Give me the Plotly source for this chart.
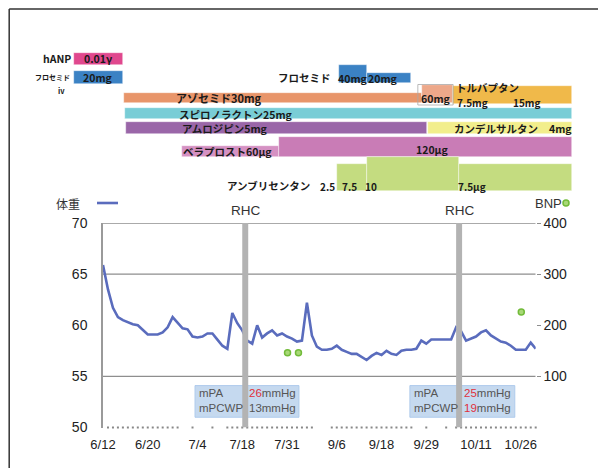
import plotly.graph_objects as go

# ---------------- data ----------------
# body weight (kg), one value per measurement (category index)
weight = [65.9, 63.5, 61.7, 60.8, 60.5, 60.3, 60.1, 60.0, 59.5, 59.1,
          59.1, 59.1, 59.3, 59.8, 60.8, 60.2, 59.7, 59.6, 58.9, 58.8,
          58.9, 59.2, 59.2, 58.6, 58.0, 57.7, 61.2, 60.2, 59.5, 58.5,
          58.2, 60.0, 58.8, 59.2, 59.5, 59.0, 59.2, 58.9, 58.7, 58.4,
          58.5, 62.2, 59.0, 57.9, 57.6, 57.6, 57.7, 58.0, 57.6, 57.4,
          57.2, 57.2, 56.9, 56.6, 57.0, 57.3, 57.1, 57.5, 57.2, 57.1,
          57.5, 57.6, 57.6, 57.7, 58.5, 58.2, 58.6, 58.6, 58.6, 58.6,
          58.6, 59.8, 59.4, 58.5, 58.7, 58.9, 59.3, 59.5, 59.0, 58.7,
          58.4, 58.3, 58.0, 57.6, 57.6, 57.6, 58.3, 57.7]
# BNP (pg/mL) measurements: category index, value
bnp_idx = [-1, 37.1, 39.3, 84.1]
bnp_val = [210, 146, 146, 226]

tick_idx = [0, 9, 19, 28, 37, 47, 56, 65, 75, 84]
tick_labels = ["6/12", "6/20", "7/4", "7/18", "7/31", "9/6", "9/18", "9/29", "10/11", "10/26"]
dot_gaps = [16, 17, 19, 20, 21, 23, 24, 43, 44, 45, 63, 64, 66, 67, 68, 70]
dot_idx = [i for i in range(1, len(weight)) if i not in dot_gaps]

left_ticks = [50, 55, 60, 65, 70]
right_ticks = [100, 200, 300, 400]
grid_vals = [55, 65, 70]

rhc_idx = [28.6, 71.6]
rhc_text = [("26", "13"), ("25", "19")]
rhc_red = [(True, False), (True, True)]

drug_key = ["hANP", "furo_iv", "furo40", "furo20", "azo30", "azo60", "tolv",
            "spiro", "amlo", "cand", "bera60", "bera120", "amb7a", "amb10", "amb7b"]
drug_start = [-5.8, -5.8, 47.4, 53.0, 4.2, 64.1, 70.4, 4.5, 4.6, 65.3, 15.8, 35.3, 47.0, 53.0, 71.6]
drug_end = [4.0, 4.0, 53.0, 61.9, 64.1, 70.4, 94.2, 94.2, 65.1, 94.2, 35.3, 94.2, 53.0, 71.6, 94.2]

# ---------------- layout helpers ----------------
OFF = 8                      # page body margin
W, H = 606 - OFF, 468 - OFF
X0PX, X1PX = 103, 535.7
N_LAST = len(weight) - 1
PPU = (X1PX - X0PX) / N_LAST


def px(x):
    return (x - OFF) / W


def py(y):
    return 1 - (y - OFF) / H


row_geom = {
    "hANP": (14.2, 11.7), "furo_iv": (32.7, 13.3), "furo40": (28.9, 17.7),
    "furo20": (33.0, 9.4), "azo30": (53.0, 9.4), "azo60": (48.9, 17.7),
    "tolv": (50.0, 18.6), "spiro": (68.5, 11.6), "amlo": (82.9, 12.3),
    "cand": (82.9, 12.3), "bera60": (106.3, 10.7), "bera120": (101.7, 20.0),
    "amb7a": (132.3, 26.7), "amb10": (129.0, 33.4), "amb7b": (132.3, 26.7),
}
colors = {
    "hANP": "#e0488e", "furo_iv": "#3b82c4", "furo40": "#3b82c4", "furo20": "#3b82c4",
    "azo30": "#e8956a", "azo60": "#eda88a", "tolv": "#f0b94a", "spiro": "#79cdd6",
    "amlo": "#9a66a8", "cand": "#f2ee8c", "bera60": "#d591c3", "bera120": "#c97cb6",
    "amb7a": "#c4dc80", "amb10": "#c4dc80", "amb7b": "#c4dc80",
}

LINE_COLOR = "#5a6cbd"
FONT = "Liberation Sans, Arial, sans-serif"
JFONT = "Noto Sans CJK JP, sans-serif"

fig = go.Figure()

for k, s, e in zip(drug_key, drug_start, drug_end):
    c, t = row_geom[k]
    fig.add_trace(go.Bar(
        orientation="h", y=[c], x=[e - s], base=[s], width=[t],
        marker=dict(color=colors[k], line=dict(width=0.6, color="rgba(255,255,255,0.7)")),
        xaxis="x2", yaxis="y2", showlegend=False, hoverinfo="skip"))

fig.add_trace(go.Scatter(
    x=list(range(len(weight))), y=weight, mode="lines",
    line=dict(color=LINE_COLOR, width=2.6), showlegend=False, hoverinfo="skip"))

fig.add_trace(go.Scatter(
    x=dot_idx, y=[50] * len(dot_idx), mode="markers",
    marker=dict(size=2, color="#888888", symbol="square"), cliponaxis=False,
    showlegend=False, hoverinfo="skip"))

fig.add_trace(go.Scatter(
    x=bnp_idx, y=bnp_val, mode="markers", yaxis="y3",
    marker=dict(size=6, color="#a8d877", line=dict(color="#72bb3a", width=1.5)),
    cliponaxis=False, showlegend=False, hoverinfo="skip"))

shapes = []
for g in grid_vals:
    shapes.append(dict(type="line", xref="x", yref="y", x0=0, x1=N_LAST, y0=g, y1=g,
                       line=dict(color="#8e8e8e", width=1.3), layer="below"))
for r in rhc_idx:
    shapes.append(dict(type="rect", xref="x", yref="y", x0=r - 0.6, x1=r + 0.6, y0=50, y1=70,
                       fillcolor="#b3b3b3", line=dict(width=0), layer="above"))
box_x = [(18.5, 39.4), (61.7, 82.8)]
for (a, b) in box_x:
    shapes.append(dict(type="rect", xref="x", yref="y", x0=a, x1=b, y0=51.0, y1=54.1,
                       fillcolor="rgba(150,185,225,0.55)",
                       line=dict(color="rgba(170,200,235,0.9)", width=1), layer="below"))
shapes.append(dict(type="rect", xref="x2", yref="y2", x0=63.3, x1=70.4, y0=39.5, y1=60,
                   line=dict(color="#aaaaaa", width=0.8)))
shapes.append(dict(type="line", xref="paper", yref="paper", x0=px(97), x1=px(118),
                   y0=py(203), y1=py(203), line=dict(color=LINE_COLOR, width=2.6)))
shapes.append(dict(type="circle", xref="paper", yref="paper", x0=px(563), x1=px(569),
                   y0=py(206), y1=py(200), fillcolor="#a8d877",
                   line=dict(color="#72bb3a", width=1.5)))
shapes.append(dict(type="line", xref="paper", yref="paper", x0=0.002, x1=0.002,
                   y0=0, y1=0.998, line=dict(color="#333333", width=1.5)))
shapes.append(dict(type="line", xref="paper", yref="paper", x0=0.002, x1=1,
                   y0=0.998, y1=0.998, line=dict(color="#333333", width=1.5)))

ann = []


def jt(text, x, y, size=11, anchor="center", bold=True, color="#1a1a1a"):
    t = f"<b>{text}</b>" if bold else text
    ann.append(dict(text=t, x=x, y=y, xref="x2", yref="y2", showarrow=False,
                    xanchor=anchor, yanchor="middle",
                    font=dict(family=JFONT, size=size, color=color)))


jt("hANP", -6.1, 14, 10.5, "right")
jt("0.01γ", -1.0, 14, 10.5)
jt("フロセミド", -6.2, 32, 7, "right")
jt("iv", -8.4, 45, 7.5)
jt("20mg", -1.0, 32.5, 10.5)
jt("フロセミド", 46.2, 32, 10.5, "right")
jt("40mg", 50.3, 33, 10.5)
jt("20mg", 56.3, 33, 10.5)
jt("アゾセミド30mg", 23.3, 53, 11)
jt("60mg", 66.9, 53, 10.5)
jt("トルバプタン", 70.6, 42, 10.5, "left")
jt("7.5mg", 70.8, 57.5, 10, "left")
jt("15mg", 82.0, 57.5, 10, "left")
jt("スピロノラクトン25mg", 26.7, 69, 10.5)
jt("アムロジピン5mg", 24.5, 83, 10.5)
jt("カンデルサルタン", 70.2, 83, 10.5, "left")
jt("4mg", 89.3, 83, 10.5, "left")
jt("ベラプロスト60μg", 25.1, 106, 10.5)
jt("120μg", 66.3, 104, 10.5)
jt("アンブリセンタン", 42.0, 140, 10.5, "right")
jt("2.5", 45.2, 141, 10)
jt("7.5", 49.5, 141, 10)
jt("10", 53.9, 141, 10)
jt("7.5μg", 74.2, 141, 10)

for r in rhc_idx:
    ann.append(dict(text="RHC", x=r, y=py(210), xref="x", yref="paper", showarrow=False,
                    xanchor="center", yanchor="middle",
                    font=dict(family=FONT, size=13.5, color="#333333")))

for (a, b), (v1, v2), (r1, r2) in zip(box_x, rhc_text, rhc_red):
    ann.append(dict(text="mPA<br>mPCWP", x=a + 0.35, y=52.6, xref="x", yref="y",
                    showarrow=False, xanchor="left", yanchor="middle", align="left",
                    font=dict(family=FONT, size=11.5, color="#555555")))
    s1 = f'<span style="color:#e0303c">{v1}</span>' if r1 else v1
    s2 = f'<span style="color:#e0303c">{v2}</span>' if r2 else v2
    ann.append(dict(text=f"{s1}mmHg<br>{s2}mmHg", x=a + 10.4, y=52.6, xref="x", yref="y",
                    showarrow=False, xanchor="left", yanchor="middle", align="left",
                    font=dict(family=FONT, size=11.5, color="#555555")))

ann.append(dict(text="体重", x=px(82), y=py(203), xref="paper", yref="paper", showarrow=False,
                xanchor="right", yanchor="middle", font=dict(family=JFONT, size=12, color="#333")))
ann.append(dict(text="BNP", x=px(533), y=py(203), xref="paper", yref="paper", showarrow=False,
                xanchor="left", yanchor="middle", font=dict(family=FONT, size=13, color="#333")))

x2_range = [(60 - X0PX) / PPU, (590 - X0PX) / PPU]

fig.update_layout(
    template="none",
    width=W, height=H, margin=dict(l=0, r=0, t=0, b=0, pad=0, autoexpand=False),
    paper_bgcolor="white", plot_bgcolor="rgba(0,0,0,0)",
    barmode="overlay", bargap=0,
    shapes=shapes, annotations=ann,
    xaxis=dict(domain=[px(X0PX), px(X1PX)], range=[0, N_LAST], tickvals=tick_idx,
               ticktext=tick_labels, showgrid=False, zeroline=False, showline=False,
               ticks="", ticklabelstandoff=7, anchor="y", automargin=False,
               tickfont=dict(family=FONT, size=13, color="#222222")),
    yaxis=dict(domain=[py(427.5), py(223)], range=[50, 70], tickvals=left_ticks,
               showgrid=False, zeroline=False, showline=True, linecolor="#9a9a9a",
               linewidth=1.5, ticks="", ticklabelstandoff=11, anchor="x", automargin=False,
               tickfont=dict(family=FONT, size=14, color="#222222")),
    yaxis3=dict(overlaying="y", side="right", range=[0, 400], tickvals=right_ticks,
                showgrid=False, zeroline=False, showline=False, ticks="outside",
                ticklen=4, tickcolor="#8e8e8e", anchor="x", automargin=False,
                tickfont=dict(family=FONT, size=14, color="#222222")),
    xaxis2=dict(domain=[px(60), px(590)], range=x2_range, visible=False,
                anchor="y2", fixedrange=True, automargin=False),
    yaxis2=dict(domain=[py(195), py(45)], range=[150, 0], visible=False,
                anchor="x2", fixedrange=True, automargin=False),
    showlegend=False,
)

fig.write_html("out.html")
